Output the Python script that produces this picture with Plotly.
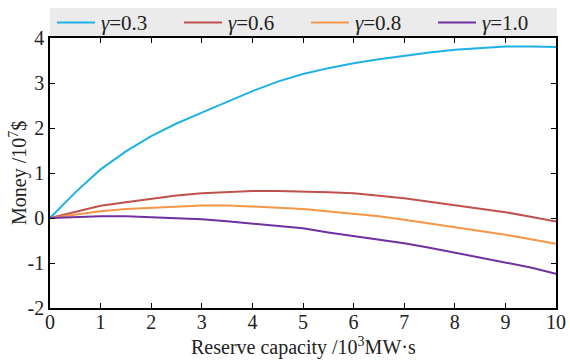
import plotly.graph_objects as go

x_vals = [0, 0.5, 1, 1.5, 2, 2.5, 3, 3.5, 4, 4.5, 5, 5.5, 6, 6.5, 7, 7.5, 8, 8.5, 9, 9.5, 10]
g03 = [0, 0.57, 1.08, 1.48, 1.82, 2.1, 2.34, 2.58, 2.82, 3.03, 3.2, 3.33, 3.44, 3.53, 3.61, 3.68, 3.74, 3.78, 3.81, 3.81, 3.8]
g06 = [0, 0.14, 0.27, 0.35, 0.42, 0.5, 0.55, 0.58, 0.6, 0.6, 0.59, 0.57, 0.55, 0.5, 0.44, 0.36, 0.28, 0.21, 0.13, 0.03, -0.08]
g08 = [0, 0.08, 0.15, 0.2, 0.23, 0.26, 0.28, 0.28, 0.26, 0.23, 0.2, 0.15, 0.1, 0.04, -0.04, -0.12, -0.2, -0.28, -0.37, -0.47, -0.57]
g10 = [0, 0.02, 0.04, 0.04, 0.02, 0.0, -0.03, -0.07, -0.12, -0.17, -0.23, -0.32, -0.4, -0.48, -0.56, -0.66, -0.77, -0.87, -0.98, -1.1, -1.24]

series_names = ["<i>γ</i>=0.3", "<i>γ</i>=0.6", "<i>γ</i>=0.8", "<i>γ</i>=1.0"]
series_colors = ["#1eb0e8", "#c0504d", "#f79646", "#7030a0"]
series_values = [g03, g06, g08, g10]

x_ticks = list(range(0, 11))
y_ticks = [-2, -1, 0, 1, 2, 3, 4]
y_ticktext = ["-2", "-1", "0", "1", "2", "3", "4"]
x_title = "Reserve capacity /10<sup>3</sup>MW·s"
y_title = "Money /10<sup>7</sup>$"

FONT = "Liberation Serif, Times New Roman, serif"
TXT = "#222"

W, H = 570, 362
ML, MR, MT, MB = 50, 14, 38, 54
PW, PH = W - ML - MR, H - MT - MB


def px_x(px):
    return (px - ML) / PW


def px_y(py):
    return (H - MB - py) / PH


fig = go.Figure()
for name, color, vals in zip(series_names, series_colors, series_values):
    fig.add_trace(go.Scatter(x=x_vals, y=vals, mode="lines", name=name,
                             line=dict(color=color, width=2), showlegend=False))

axis_common = dict(showline=True, linecolor="black", linewidth=1.5, mirror="ticks",
                   ticks="inside", ticklen=5, tickwidth=1, tickcolor="black",
                   showgrid=False, zeroline=False, automargin=False,
                   tickfont=dict(family=FONT, size=20, color=TXT))

fig.update_xaxes(range=[0, 10], tickvals=x_ticks, ticklabelstandoff=-5, **axis_common)
fig.update_yaxes(range=[-2, 4], tickvals=y_ticks, ticktext=y_ticktext, **axis_common)

# legend drawn manually: grey band with line samples and labels
shapes = [dict(type="rect", xref="paper", yref="paper",
               x0=px_x(50), x1=px_x(557), y0=px_y(37), y1=px_y(8),
               fillcolor="#ebebeb", line=dict(width=0), layer="below")]
annotations = []
for i, (name, color) in enumerate(zip(series_names, series_colors)):
    lx0 = 57 + 127 * i
    shapes.append(dict(type="line", xref="paper", yref="paper",
                       x0=px_x(lx0), x1=px_x(lx0 + 38), y0=px_y(22.5), y1=px_y(22.5),
                       line=dict(color=color, width=2)))
    annotations.append(dict(xref="paper", yref="paper", x=px_x(lx0 + 42), y=px_y(22.5),
                            xanchor="left", yanchor="middle", showarrow=False,
                            text=name, font=dict(family=FONT, size=21, color=TXT)))

# axis titles
annotations.append(dict(xref="paper", yref="paper", x=0.5, y=px_y(346),
                        xanchor="center", yanchor="middle", showarrow=False,
                        text=x_title, font=dict(family=FONT, size=20, color=TXT)))
annotations.append(dict(xref="paper", yref="paper", x=px_x(18), y=0.5,
                        xanchor="center", yanchor="middle", showarrow=False, textangle=-90,
                        text=y_title, font=dict(family=FONT, size=20, color=TXT)))

fig.update_layout(
    width=W, height=H,
    margin=dict(l=ML, r=MR, t=MT, b=MB),
    paper_bgcolor="white", plot_bgcolor="white",
    showlegend=False,
    shapes=shapes, annotations=annotations,
)

fig.write_html("out.html", config={"displayModeBar": False},
               post_script="document.body.style.margin='0';document.body.style.padding='0';")
